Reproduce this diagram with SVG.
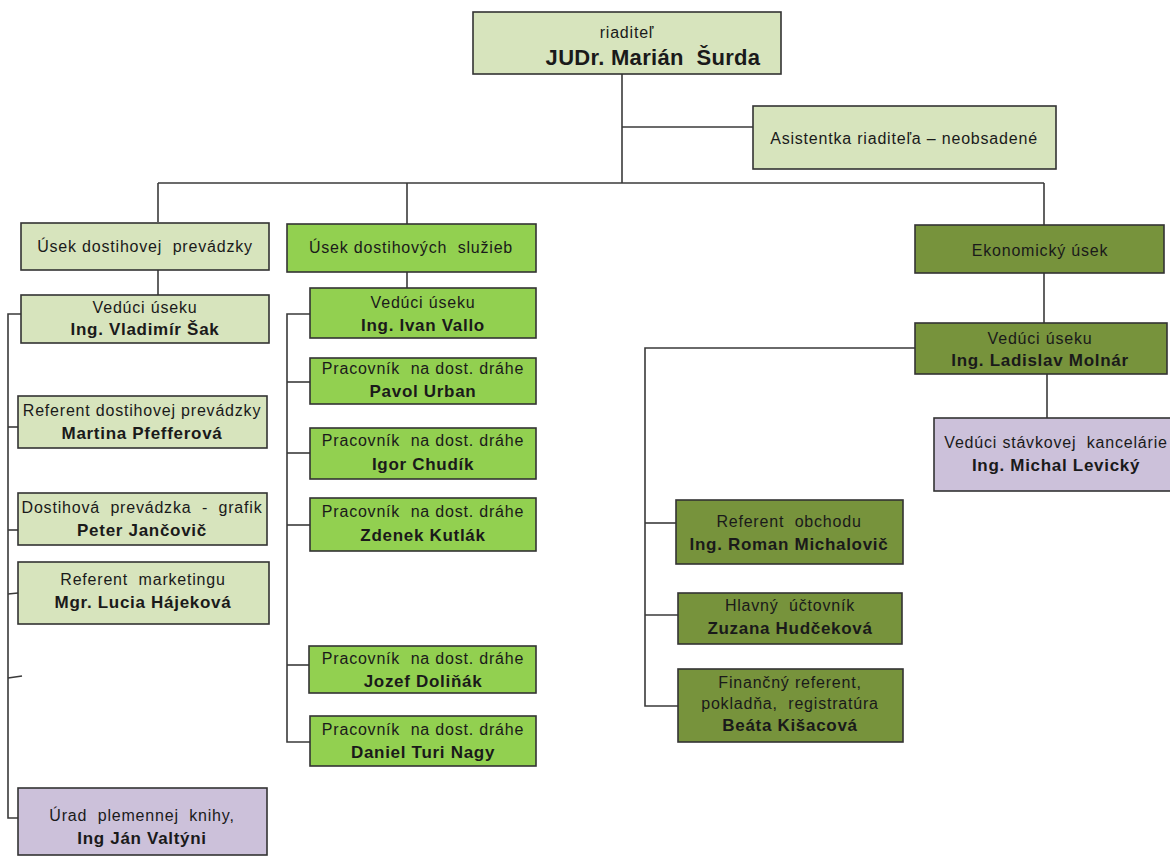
<svg xmlns="http://www.w3.org/2000/svg" width="1170" height="856" viewBox="0 0 1170 856">
<style>
text{font-family:"Liberation Sans",Arial,sans-serif;fill:#1a1a1a;text-anchor:middle;white-space:pre}
.r{font-size:16px;letter-spacing:0.8px}
.b{font-size:17px;font-weight:bold;letter-spacing:0.7px}
.n{stroke:#333;stroke-width:1.6}
.lg{fill:#d7e4bd}
.g{fill:#92d050}
.o{fill:#77933c}
.p{fill:#ccc1da}
.c line,.c polyline{stroke:#3a3a3a;stroke-width:1.6;fill:none}
</style>
<rect width="1170" height="856" fill="#fff"/>
<g class="c" id="connectors">
<line x1="622" y1="74" x2="622" y2="183"/>
<line x1="622" y1="127" x2="753" y2="127"/>
<line x1="158" y1="183" x2="1044" y2="183"/>
<line x1="158" y1="183" x2="158" y2="222"/>
<line x1="407" y1="183" x2="407" y2="224"/>
<line x1="1044" y1="183" x2="1044" y2="225"/>
<line x1="158" y1="270" x2="158" y2="295"/>
<line x1="407" y1="272" x2="407" y2="288"/>
<line x1="1044" y1="273" x2="1044" y2="323"/>
<line x1="1047" y1="374" x2="1047" y2="418"/>
<polyline points="21,314 8,314 8,818 18,818"/>
<line x1="8" y1="427" x2="18" y2="427"/>
<line x1="8" y1="530" x2="18" y2="530"/>
<line x1="8" y1="594" x2="18" y2="593"/>
<line x1="8" y1="678" x2="22" y2="676"/>
<polyline points="310,314 287,314 287,742 310,742"/>
<line x1="287" y1="382" x2="310" y2="382"/>
<line x1="287" y1="453" x2="310" y2="453"/>
<line x1="287" y1="525" x2="310" y2="525"/>
<line x1="287" y1="665" x2="309" y2="665"/>
<polyline points="915,348 645,348 645,706 678,706"/>
<line x1="645" y1="523" x2="676" y2="523"/>
<line x1="645" y1="615" x2="678" y2="615"/>
</g>
<g id="riaditel"><rect class="n lg" x="473" y="12" width="308" height="62"/><text class="r" x="627" y="38">riaditeľ</text><text x="653" y="65" style="font-size:22px;font-weight:bold;letter-spacing:0.3px">JUDr. Marián  Šurda</text></g>
<g id="asistentka"><rect class="n lg" x="753" y="106" width="303" height="63"/><text class="r" x="904" y="144">Asistentka riaditeľa – neobsadené</text></g>
<g id="usek-prevadzky"><rect class="n lg" x="21" y="223" width="248" height="47"/><text class="r" x="145" y="252">Úsek dostihovej  prevádzky</text></g>
<g id="sak"><rect class="n lg" x="21" y="295" width="248" height="48"/><text class="r" x="145" y="313">Vedúci úseku</text><text class="b" x="145" y="335">Ing. Vladimír Šak</text></g>
<g id="pfefferova"><rect class="n lg" x="18" y="396" width="249" height="52"/><text class="r" x="142" y="416">Referent dostihovej prevádzky</text><text class="b" x="142" y="439">Martina Pfefferová</text></g>
<g id="jancovic"><rect class="n lg" x="18" y="493" width="249" height="52"/><text class="r" x="142" y="513">Dostihová  prevádzka  -  grafik</text><text class="b" x="142" y="536">Peter Jančovič</text></g>
<g id="hajekova"><rect class="n lg" x="18" y="562" width="251" height="62"/><text class="r" x="143" y="585">Referent  marketingu</text><text class="b" x="143" y="608">Mgr. Lucia Hájeková</text></g>
<g id="valtyni"><rect class="n p" x="18" y="788" width="249" height="67"/><text class="r" x="142" y="821">Úrad  plemennej  knihy,</text><text class="b" x="142" y="844">Ing Ján Valtýni</text></g>
<g id="usek-sluzieb"><rect class="n g" x="287" y="224" width="249" height="48"/><text class="r" x="411" y="253">Úsek dostihových  služieb</text></g>
<g id="vallo"><rect class="n g" x="310" y="288" width="226" height="50"/><text class="r" x="423" y="308">Vedúci úseku</text><text class="b" x="423" y="331">Ing. Ivan Vallo</text></g>
<g id="urban"><rect class="n g" x="310" y="358" width="226" height="46"/><text class="r" x="423" y="374">Pracovník  na dost. dráhe</text><text class="b" x="423" y="397">Pavol Urban</text></g>
<g id="chudik"><rect class="n g" x="310" y="428" width="226" height="51"/><text class="r" x="423" y="446">Pracovník  na dost. dráhe</text><text class="b" x="423" y="470">Igor Chudík</text></g>
<g id="kutlak"><rect class="n g" x="310" y="498" width="226" height="53"/><text class="r" x="423" y="517">Pracovník  na dost. dráhe</text><text class="b" x="423" y="541">Zdenek Kutlák</text></g>
<g id="dolinak"><rect class="n g" x="309" y="646" width="227" height="47"/><text class="r" x="423" y="664">Pracovník  na dost. dráhe</text><text class="b" x="423" y="687">Jozef Doliňák</text></g>
<g id="nagy"><rect class="n g" x="310" y="716" width="226" height="50"/><text class="r" x="423" y="735">Pracovník  na dost. dráhe</text><text class="b" x="423" y="758">Daniel Turi Nagy</text></g>
<g id="ekonomicky"><rect class="n o" x="915" y="225" width="249" height="48"/><text class="r" x="1040" y="256">Ekonomický úsek</text></g>
<g id="molnar"><rect class="n o" x="915" y="323" width="252" height="51"/><text class="r" x="1040" y="344">Vedúci úseku</text><text class="b" x="1040" y="366">Ing. Ladislav Molnár</text></g>
<g id="levicky"><rect class="n p" x="934" y="418" width="245" height="73"/><text class="r" x="1056" y="448">Vedúci stávkovej  kancelárie</text><text class="b" x="1056" y="471">Ing. Michal Levický</text></g>
<g id="michalovic"><rect class="n o" x="676" y="500" width="227" height="64"/><text class="r" x="789" y="527">Referent  obchodu</text><text class="b" x="789" y="550">Ing. Roman Michalovič</text></g>
<g id="hudcekova"><rect class="n o" x="678" y="593" width="224" height="51"/><text class="r" x="790" y="611">Hlavný  účtovník</text><text class="b" x="790" y="634">Zuzana Hudčeková</text></g>
<g id="kisacova"><rect class="n o" x="678" y="669" width="225" height="73"/><text class="r" x="790" y="688">Finančný referent,</text><text class="r" x="790" y="709">pokladňa,  registratúra</text><text class="b" x="790" y="731">Beáta Kišacová</text></g>
</svg>
